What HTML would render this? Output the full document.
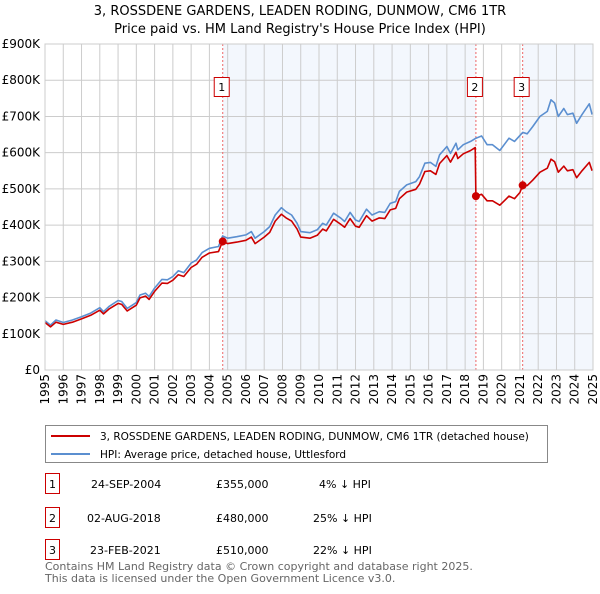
<!DOCTYPE html>
<html><head><meta charset="utf-8"><style>
body{margin:0;background:#fff;width:600px;height:590px;overflow:hidden;font-family:"DejaVu Sans","Liberation Sans",sans-serif;}
svg text{font-family:"DejaVu Sans","Liberation Sans",sans-serif;}
</style></head><body>
<svg id="chart" width="600" height="590" xmlns="http://www.w3.org/2000/svg">
<text x="300" y="15" text-anchor="middle" font-size="13">3, ROSSDENE GARDENS, LEADEN RODING, DUNMOW, CM6 1TR</text>
<text x="300" y="33" text-anchor="middle" font-size="13">Price paid vs. HM Land Registry's House Price Index (HPI)</text>
<g id="grid"></g><g id="marks"></g><g id="axes"></g>
<g>
<rect x="45.5" y="425.5" width="502" height="37" fill="#fff" stroke="#888"/>
<line x1="51" y1="436" x2="90" y2="436" stroke="#cc0000" stroke-width="2"/>
<text x="100" y="440" font-size="10.5">3, ROSSDENE GARDENS, LEADEN RODING, DUNMOW, CM6 1TR (detached house)</text>
<line x1="51" y1="454" x2="90" y2="454" stroke="#5b8fd0" stroke-width="2"/>
<text x="100" y="458" font-size="10.5">HPI: Average price, detached house, Uttlesford</text>
</g>
<g font-size="11">
<rect x="45.5" y="473.5" width="14" height="20" fill="#fff" stroke="#cc0000"/><text x="52.5" y="488" text-anchor="middle">1</text>
<text x="91" y="488">24-SEP-2004</text><text x="216" y="488">£355,000</text><text x="319" y="488">4% ↓ HPI</text>
<rect x="45.5" y="507.5" width="14" height="20" fill="#fff" stroke="#cc0000"/><text x="52.5" y="522" text-anchor="middle">2</text>
<text x="87" y="522">02-AUG-2018</text><text x="216" y="522">£480,000</text><text x="313" y="522">25% ↓ HPI</text>
<rect x="45.5" y="539.5" width="14" height="20" fill="#fff" stroke="#cc0000"/><text x="52.5" y="554" text-anchor="middle">3</text>
<text x="90" y="554">23-FEB-2021</text><text x="216" y="554">£510,000</text><text x="313" y="554">22% ↓ HPI</text>
</g>
<text x="45" y="570" font-size="11" fill="#666">Contains HM Land Registry data © Crown copyright and database right 2025.</text>
<text x="45" y="582" font-size="11" fill="#666">This data is licensed under the Open Government Licence v3.0.</text>
</svg>
<script>
const hpiYears=[1995.0,1995.3,1995.6,1996.0,1996.5,1997.0,1997.5,1998.0,1998.2,1998.5,1999.0,1999.2,1999.5,2000.0,2000.2,2000.5,2000.7,2001.0,2001.4,2001.7,2002.0,2002.3,2002.6,2003.0,2003.3,2003.6,2004.0,2004.5,2004.72,2005.0,2005.5,2006.0,2006.3,2006.5,2007.0,2007.3,2007.6,2007.94,2008.2,2008.5,2008.8,2009.0,2009.5,2009.9,2010.2,2010.4,2010.8,2011.2,2011.4,2011.7,2012.0,2012.2,2012.6,2012.9,2013.3,2013.6,2013.9,2014.2,2014.4,2014.8,2015.3,2015.5,2015.8,2016.1,2016.4,2016.6,2017.0,2017.2,2017.5,2017.6,2017.9,2018.3,2018.59,2018.9,2019.2,2019.5,2019.9,2020.2,2020.4,2020.7,2021.15,2021.4,2021.7,2022.1,2022.5,2022.7,2022.9,2023.1,2023.4,2023.6,2023.9,2024.1,2024.4,2024.8,2024.95];
const hpiValues=[136,124,138,131,138,147,157,172,161,175,192,189,170,186,207,212,203,226,250,249,258,274,269,295,304,324,336,341,370,364,368,373,382,364,382,396,428,448,437,428,405,382,379,387,405,400,433,419,410,435,414,410,444,428,437,435,460,465,493,511,520,534,571,573,562,594,617,598,626,608,622,631,640,646,622,622,606,626,640,631,656,652,672,700,714,746,737,700,722,705,709,681,705,735,705];
const priceYears=[1995.0,1995.3,1995.6,1996.0,1996.5,1997.0,1997.5,1998.0,1998.2,1998.5,1999.0,1999.2,1999.5,2000.0,2000.2,2000.5,2000.7,2001.0,2001.4,2001.7,2002.0,2002.3,2002.6,2003.0,2003.3,2003.6,2004.0,2004.5,2004.72,2005.0,2005.5,2006.0,2006.3,2006.5,2007.0,2007.3,2007.6,2007.94,2008.2,2008.5,2008.8,2009.0,2009.5,2009.9,2010.2,2010.4,2010.8,2011.2,2011.4,2011.7,2012.0,2012.2,2012.6,2012.9,2013.3,2013.6,2013.9,2014.2,2014.4,2014.8,2015.3,2015.5,2015.8,2016.1,2016.4,2016.6,2017.0,2017.2,2017.5,2017.6,2017.9,2018.3,2018.55,2018.59,2018.9,2019.2,2019.5,2019.9,2020.2,2020.4,2020.7,2021.0,2021.15,2021.4,2021.7,2022.1,2022.5,2022.7,2022.9,2023.1,2023.4,2023.6,2023.9,2024.1,2024.4,2024.8,2024.95];
const priceValues=[131,119,132,126,132,141,151,165,155,168,184,181,163,179,199,204,195,217,240,239,248,263,258,283,292,311,323,327,355,349,353,358,367,349,367,380,411,430,420,411,389,367,364,372,389,384,416,402,394,418,397,394,426,411,420,418,442,446,473,491,499,513,548,550,540,570,592,574,601,584,597,606,614,480,485,467,467,455,470,480,473,490,510,509,524,546,557,582,575,546,563,550,553,531,550,573,550];
const saleYears=[2004.73,2018.59,2021.15];
const saleValues=[355,480,510];
const saleLabels=["1","2","3"];
const yTicks=[0,100,200,300,400,500,600,700,800,900];
const yTickLabels=["£0","£100K","£200K","£300K","£400K","£500K","£600K","£700K","£800K","£900K"];
const xTicks=[1995,1996,1997,1998,1999,2000,2001,2002,2003,2004,2005,2006,2007,2008,2009,2010,2011,2012,2013,2014,2015,2016,2017,2018,2019,2020,2021,2022,2023,2024,2025];

const L=45,R=593,T=44,B=370,X0=1995,X1=2025,YMAX=900;
const xs=v=>L+(v-X0)/(X1-X0)*(R-L);
const ys=v=>B-v/YMAX*(B-T);
const NS="http://www.w3.org/2000/svg";
function mk(parent,tag,attrs){const e=document.createElementNS(NS,tag);for(const k in attrs)e.setAttribute(k,attrs[k]);parent.appendChild(e);return e;}
const grid=document.getElementById('grid'),marks=document.getElementById('marks'),axes=document.getElementById('axes');
let s1=mk(grid,'rect',{x:xs(saleYears[0]),y:T,width:xs(saleYears[1])-xs(saleYears[0]),height:B-T,fill:'#eef3fc',opacity:0.7});


let s2=mk(grid,'rect',{x:xs(saleYears[2]),y:T,width:R-xs(saleYears[2]),height:B-T,fill:'#eef3fc',opacity:0.7});


yTicks.forEach((t,i)=>{
  let g=mk(grid,'line',{x1:L,x2:R,y1:ys(t),y2:ys(t),stroke:'#ccc','stroke-width':1});
  
  
  let tx=mk(axes,'text',{x:L-5,y:ys(t)+4,'text-anchor':'end','font-size':12});
  
  
  tx.textContent=yTickLabels[i];
});
xTicks.forEach(t=>{
  let g=mk(grid,'line',{x1:xs(t),x2:xs(t),y1:T,y2:B,stroke:'#ccc','stroke-width':1});
  
  
  let tx=mk(axes,'text',{x:0,y:0,'text-anchor':'end','font-size':12,transform:`translate(${xs(t)+4},${B+4}) rotate(-90)`});
  
  
  tx.textContent=t;
});
saleYears.forEach((y,i)=>{
  let d=mk(marks,'line',{x1:xs(y),x2:xs(y),y1:T,y2:B,stroke:'#e66','stroke-width':1,'stroke-dasharray':'2,2'});
  
  
});
function path(xv,yv,color,name){
  let d=xv.map((x,i)=>(i?'L':'M')+xs(x).toFixed(1)+','+ys(yv[i]).toFixed(1)).join('');
  let p=mk(marks,'path',{d:d,fill:'none',stroke:color,'stroke-width':1.6,'stroke-linejoin':'round'});
  
  
}
path(hpiYears,hpiValues,'#5b8fd0','hpi-line');
path(priceYears,priceValues,'#cc0000','price-line');
saleYears.forEach((y,i)=>{
  let c=mk(marks,'circle',{cx:xs(y),cy:ys(saleValues[i]),r:4,fill:'#cc0000'});
  
  
  let bx=mk(marks,'rect',{x:xs(y)-8.5,y:77.5,width:15,height:19,fill:'#fff',stroke:'#cc0000'});
  
  
  let tx=mk(marks,'text',{x:xs(y)-1,y:91,'text-anchor':'middle','font-size':11});
  
  
  tx.textContent=saleLabels[i];
});
let fr=mk(axes,'rect',{x:L,y:T,width:R-L,height:B-T,fill:'none',stroke:'#ccc'});


</script>
</body></html>
